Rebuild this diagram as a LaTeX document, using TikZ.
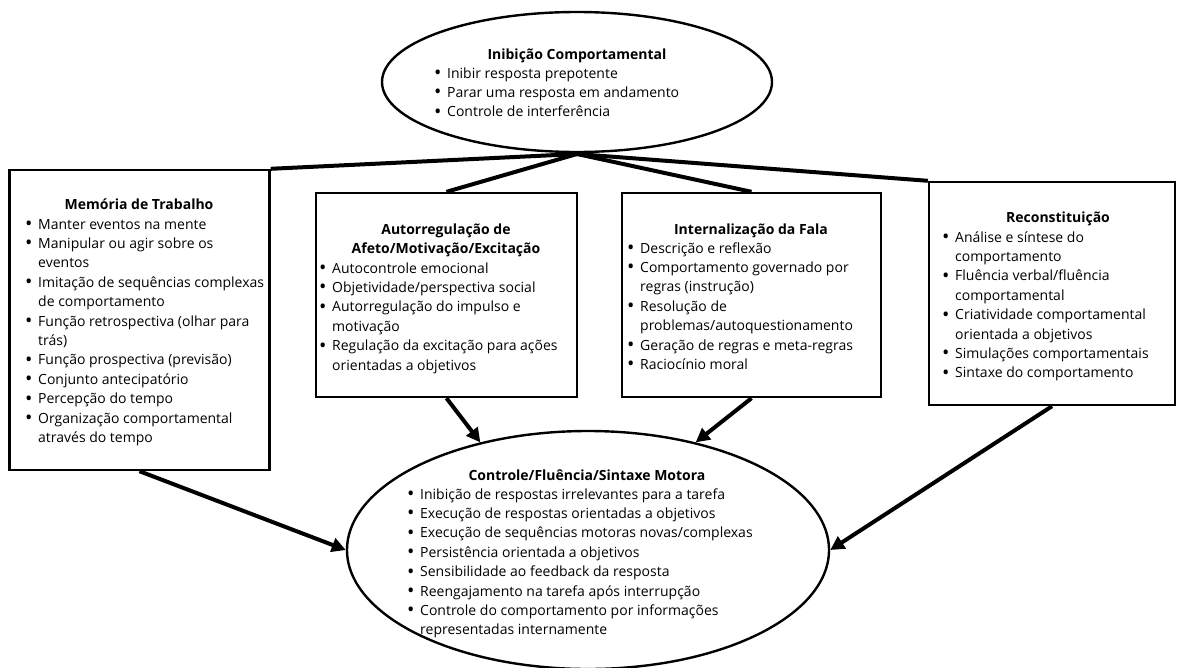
\documentclass[tikz,border=0pt]{standalone}
\usepackage{fontspec}
\usepackage{graphicx}
\setmainfont{Open Sans}
\usetikzlibrary{shapes.geometric,arrows.meta}

\newcommand\fsz{\fontsize{14}{19.4}\selectfont}
\newcommand\bl{\makebox[13pt][l]{\raisebox{-1.4pt}{\scalebox{1.4}{\textbullet}}}}
\newcommand\cont{\hspace*{13pt}}

\tikzset{
  box/.style={draw, line width=2.4pt, rectangle, inner sep=0pt},
  oval/.style={draw, line width=2.4pt, ellipse, inner sep=0pt},
  link/.style={line width=4pt},
  flow/.style={line width=4pt, -{Triangle[length=14pt,width=14pt]}},
  ttl/.style={font=\fsz\bfseries, anchor=base, inner sep=0pt},
  lst/.style={font=\fsz, anchor=base west, inner sep=0pt},
}

\begin{document}
\begin{tikzpicture}[x=1pt,y=-1pt]
\useasboundingbox (0,0) rectangle (1177,667);

% shapes
\node[oval, minimum width=390pt, minimum height=140pt] (ib) at (577,82) {};
\node[box, minimum width=260pt, minimum height=300pt] (mem) at (139.5,320) {};
\node[box, minimum width=261pt, minimum height=204pt] (aut) at (446.5,295) {};
\node[box, minimum width=259pt, minimum height=204pt] (int) at (751.5,295) {};
\node[box, minimum width=246pt, minimum height=223pt] (rec) at (1052,293.5) {};
\node[oval, minimum width=482pt, minimum height=238pt] (mot) at (588,550) {};

% texts
\node[ttl] (ibT) at (577,59) {Inibição Comportamental};
\node[lst] (ibL) at (434,78) {\begin{tabular}[t]{@{}l@{}}
\bl Inibir resposta prepotente\\
\bl Parar uma resposta em andamento\\
\bl Controle de interferência
\end{tabular}};

\node[ttl] (memT) at (139,209) {Memória de Trabalho};
\node[lst] (memL) at (25,229) {\begin{tabular}[t]{@{}l@{}}
\bl Manter eventos na mente\\
\bl Manipular ou agir sobre os\\
\cont eventos\\
\bl Imitação de sequências complexas\\
\cont de comportamento\\
\bl Função retrospectiva (olhar para\\
\cont trás)\\
\bl Função prospectiva (previsão)\\
\bl Conjunto antecipatório\\
\bl Percepção do tempo\\
\bl Organização comportamental\\
\cont através do tempo
\end{tabular}};

\node[ttl] (autT) at (446,234) {\begin{tabular}[t]{@{}c@{}}
Autorregulação de\\
Afeto/Motivação/Excitação
\end{tabular}};
\node[lst] (autL) at (319,273) {\begin{tabular}[t]{@{}l@{}}
\bl Autocontrole emocional\\
\bl Objetividade/perspectiva social\\
\bl Autorregulação do impulso e\\
\cont motivação\\
\bl Regulação da excitação para ações\\
\cont orientadas a objetivos
\end{tabular}};

\node[ttl] (intT) at (751,234) {Internalização da Fala};
\node[lst] (intL) at (627,253) {\begin{tabular}[t]{@{}l@{}}
\bl Descrição e reflexão\\
\bl Comportamento governado por\\
\cont regras (instrução)\\
\bl Resolução de\\
\cont problemas/autoquestionamento\\
\bl Geração de regras e meta-regras\\
\bl Raciocínio moral
\end{tabular}};

\node[ttl] (recT) at (1058,222) {Reconstituição};
\node[lst] (recL) at (942,242) {\begin{tabular}[t]{@{}l@{}}
\bl Análise e síntese do\\
\cont comportamento\\
\bl Fluência verbal/fluência\\
\cont comportamental\\
\bl Criatividade comportamental\\
\cont orientada a objetivos\\
\bl Simulações comportamentais\\
\bl Sintaxe do comportamento
\end{tabular}};

\node[ttl] (motT) at (587,480) {Controle/Fluência/Sintaxe Motora};
\node[lst] (motL) at (407,499) {\begin{tabular}[t]{@{}l@{}}
\bl Inibição de respostas irrelevantes para a tarefa\\
\bl Execução de respostas orientadas a objetivos\\
\bl Execução de sequências motoras novas/complexas\\
\bl Persistência orientada a objetivos\\
\bl Sensibilidade ao feedback da resposta\\
\bl Reengajamento na tarefa após interrupção\\
\bl Controle do comportamento por informações\\
\cont representadas internamente
\end{tabular}};

% connectors from the inhibition hub
\coordinate (hub) at (577,154);
\draw[link] (hub) -- (mem.north east);
\draw[link] (hub) -- (aut.north);
\draw[link] (hub) -- (int.north);
\draw[link] (hub) -- (rec.north west);

% arrows into motor control
\draw[flow] (mem.south) -- (mot.west);
\draw[flow] (aut.south) -- (mot.135);
\draw[flow] (int.south) -- (mot.45);
\draw[flow] (rec.south) -- (mot.east);
\end{tikzpicture}
\end{document}
